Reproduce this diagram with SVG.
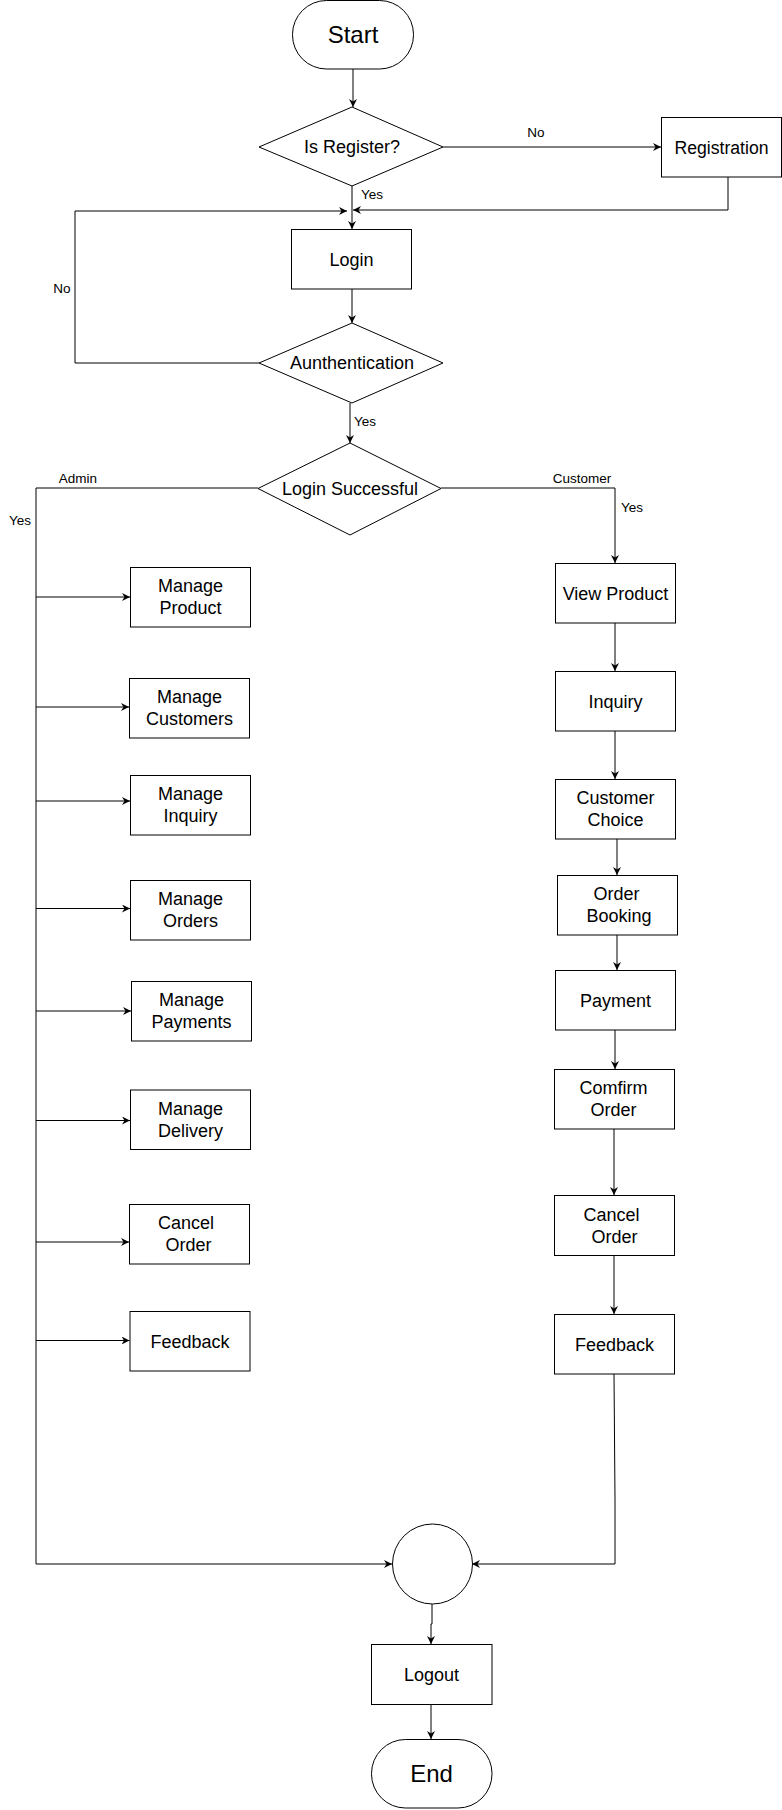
<svg xmlns="http://www.w3.org/2000/svg" width="782" height="1810" viewBox="0 0 782 1810">
<style>
.n{fill:#fff;stroke:#000;stroke-width:1}
.t{font-family:"Liberation Sans",Arial,sans-serif;font-size:18px;text-anchor:middle;fill:#000}
.big{font-size:24px}
.l{font-family:"Liberation Sans",Arial,sans-serif;font-size:13.5px;text-anchor:middle;fill:#000}
.c{fill:none;stroke:#000;stroke-width:1}
</style>
<defs>
<marker id="a" viewBox="0 0 8 8" markerUnits="userSpaceOnUse" markerWidth="8" markerHeight="8" refX="8" refY="4" orient="auto">
<path d="M0,0 L8,4 L0,8 L2.5,4 Z" fill="#000"/>
</marker>
</defs>
<rect width="782" height="1810" fill="#fff"/>
<g id="connectors">
<path class="c" d="M353,69 V107" marker-end="url(#a)"/>
<path class="c" d="M443,147 H661" marker-end="url(#a)"/>
<path class="c" d="M352,186 V229" marker-end="url(#a)"/>
<path class="c" d="M728,177 V210 H353" marker-end="url(#a)"/>
<path class="c" d="M259,363 H75 V211 H347" marker-end="url(#a)"/>
<path class="c" d="M352,289 V323" marker-end="url(#a)"/>
<path class="c" d="M350,403 V443" marker-end="url(#a)"/>
<path class="c" d="M258,488 H36 V1564 H392" marker-end="url(#a)"/>
<path class="c" d="M36,597 H130" marker-end="url(#a)"/>
<path class="c" d="M36,707 H129" marker-end="url(#a)"/>
<path class="c" d="M36,801 H130" marker-end="url(#a)"/>
<path class="c" d="M36,908.5 H130" marker-end="url(#a)"/>
<path class="c" d="M36,1011 H131" marker-end="url(#a)"/>
<path class="c" d="M36,1120.5 H130" marker-end="url(#a)"/>
<path class="c" d="M36,1242 H129" marker-end="url(#a)"/>
<path class="c" d="M36,1340.5 H129.5" marker-end="url(#a)"/>
<path class="c" d="M441,488 H615 V563" marker-end="url(#a)"/>
<path class="c" d="M615,623 V671" marker-end="url(#a)"/>
<path class="c" d="M615,731 V779" marker-end="url(#a)"/>
<path class="c" d="M617,839 V875" marker-end="url(#a)"/>
<path class="c" d="M617,935 V970" marker-end="url(#a)"/>
<path class="c" d="M615,1030 V1069" marker-end="url(#a)"/>
<path class="c" d="M614,1129 V1195" marker-end="url(#a)"/>
<path class="c" d="M614,1255.5 V1314" marker-end="url(#a)"/>
<path class="c" d="M614,1374 L615,1500 V1564 H472" marker-end="url(#a)"/>
<path class="c" d="M432,1604 V1624 H431 V1644" marker-end="url(#a)"/>
<path class="c" d="M431,1704 V1739" marker-end="url(#a)"/>
<text class="l" x="536" y="137">No</text>
<text class="l" x="372" y="199">Yes</text>
<text class="l" x="62" y="293">No</text>
<text class="l" x="365" y="426">Yes</text>
<text class="l" x="78" y="483">Admin</text>
<text class="l" x="20" y="525">Yes</text>
<text class="l" x="582" y="483">Customer</text>
<text class="l" x="632" y="512">Yes</text>
</g>
<g id="start"><rect class="n" x="292.5" y="0.5" width="121" height="68.5" rx="34" ry="34"/><text class="t big" x="353" y="42.5">Start</text></g>
<g id="is-register"><polygon class="n" points="352,107 443,147 352,186 259,147"/><text class="t" x="352" y="153.3">Is Register?</text></g>
<g id="registration"><rect class="n" x="661.5" y="117.5" width="120" height="59.5"/><text class="t" x="721.5" y="153.5" textLength="94" lengthAdjust="spacingAndGlyphs">Registration</text></g>
<g id="login"><rect class="n" x="291.5" y="229.5" width="120" height="59.5"/><text class="t" x="351.5" y="265.6">Login</text></g>
<g id="authentication"><polygon class="n" points="352,323 443,363 352,403 259,363"/><text class="t" x="352" y="369.3">Aunthentication</text></g>
<g id="login-successful"><polygon class="n" points="350,443 441,488.5 350,535 258,488.5"/><text class="t" x="350" y="495">Login Successful</text></g>
<g id="manage-product"><rect class="n" x="130.5" y="567.5" width="120" height="59.5"/><text class="t" x="190.5" y="592.3">Manage</text><text class="t" x="190.5" y="614.3">Product</text></g>
<g id="manage-customers"><rect class="n" x="129.5" y="678.5" width="120" height="59.5"/><text class="t" x="189.5" y="703.3">Manage</text><text class="t" x="189.5" y="725.3">Customers</text></g>
<g id="manage-inquiry"><rect class="n" x="130.5" y="775.5" width="120" height="59.5"/><text class="t" x="190.5" y="800.3">Manage</text><text class="t" x="190.5" y="822.3">Inquiry</text></g>
<g id="manage-orders"><rect class="n" x="130.5" y="880.5" width="120" height="59.5"/><text class="t" x="190.5" y="905.3">Manage</text><text class="t" x="190.5" y="927.3">Orders</text></g>
<g id="manage-payments"><rect class="n" x="131.5" y="981.5" width="120" height="59.5"/><text class="t" x="191.5" y="1006.3">Manage</text><text class="t" x="191.5" y="1028.3">Payments</text></g>
<g id="manage-delivery"><rect class="n" x="130.5" y="1090" width="120" height="59.5"/><text class="t" x="190.5" y="1114.8">Manage</text><text class="t" x="190.5" y="1136.8">Delivery</text></g>
<g id="cancel-order-admin"><rect class="n" x="129.5" y="1204.5" width="120" height="59.5"/><text class="t" x="186" y="1229.3">Cancel</text><text class="t" x="188.5" y="1251.3">Order</text></g>
<g id="feedback-admin"><rect class="n" x="130" y="1311.5" width="120" height="59.5"/><text class="t" x="190" y="1347.6">Feedback</text></g>
<g id="view-product"><rect class="n" x="555.5" y="563.5" width="120" height="59.5"/><text class="t" x="615.5" y="599.6">View Product</text></g>
<g id="inquiry"><rect class="n" x="555.5" y="671.5" width="120" height="59.5"/><text class="t" x="615.5" y="707.6">Inquiry</text></g>
<g id="customer-choice"><rect class="n" x="555.5" y="779.5" width="120" height="59.5"/><text class="t" x="615.5" y="804.3">Customer</text><text class="t" x="615.5" y="826.3">Choice</text></g>
<g id="order-booking"><rect class="n" x="557.5" y="875.5" width="120" height="59.5"/><text class="t" x="616.5" y="900.3">Order</text><text class="t" x="619" y="922.3">Booking</text></g>
<g id="payment"><rect class="n" x="555.5" y="970.5" width="120" height="59.5"/><text class="t" x="615.5" y="1006.6">Payment</text></g>
<g id="comfirm-order"><rect class="n" x="554.5" y="1069.5" width="120" height="59.5"/><text class="t" x="613.5" y="1094.3">Comfirm</text><text class="t" x="613.5" y="1116.3">Order</text></g>
<g id="cancel-order-customer"><rect class="n" x="554.5" y="1195.5" width="120" height="60"/><text class="t" x="611.5" y="1220.5">Cancel</text><text class="t" x="614.5" y="1242.5">Order</text></g>
<g id="feedback-customer"><rect class="n" x="554.5" y="1314.5" width="120" height="59.5"/><text class="t" x="614.5" y="1350.6">Feedback</text></g>
<g id="connector-circle"><circle class="n" cx="432.5" cy="1564" r="40"/></g>
<g id="logout"><rect class="n" x="371.5" y="1644.5" width="120.5" height="60"/><text class="t" x="431.5" y="1680.8">Logout</text></g>
<g id="end"><rect class="n" x="371.5" y="1739.5" width="120.5" height="68.5" rx="34" ry="34"/><text class="t big" x="431.5" y="1782">End</text></g>
</svg>
